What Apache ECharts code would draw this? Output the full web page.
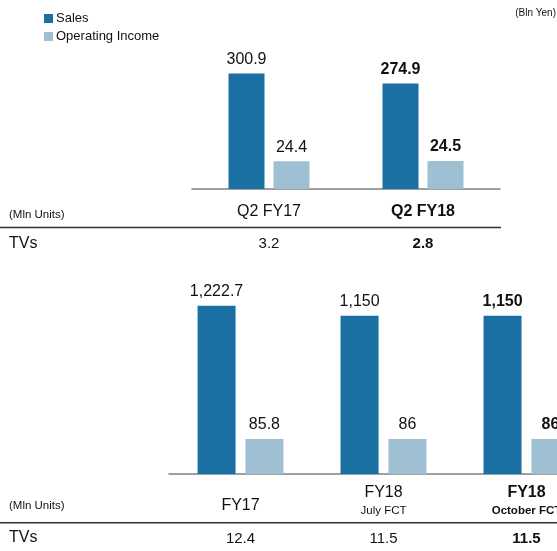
<!DOCTYPE html>
<html>
<head>
<meta charset="utf-8">
<script src="https://cdn.jsdelivr.net/npm/echarts@6/dist/echarts.min.js"></script>
<style>
html,body{margin:0;padding:0;background:#fff;}
#c{width:557px;height:551px;}
</style>
</head>
<body>
<div id="c"></div>
<script>
// ---- data ----
var quarterCats = ['Q2 FY17', 'Q2 FY18'];
var quarterSales = [300.9, 274.9];
var quarterOpIncome = [24.4, 24.5];
var quarterTVs = ['3.2', '2.8'];

var yearCats = ['FY17', 'FY18', 'FY18'];
var yearSubs = ['', 'July FCT', 'October FCT'];
var yearSales = [1222.7, 1150, 1150];
var yearOpIncome = [85.8, 86, 86];
var yearTVs = ['12.4', '11.5', '11.5'];

var quarterBold = 1; // highlighted column
var yearBold = 2;

// ---- style ----
var FONT = 'Liberation Sans, Arial, sans-serif';
var C_SALES = '#1a6fa3';
var C_OP = '#9fbfd2';

function fmt(v) {
  var p = String(v).split('.');
  p[0] = p[0].replace(/\B(?=(\d{3})+(?!\d))/g, ',');
  return p.join('.');
}
function items(arr, boldIdx) {
  return arr.map(function (v, i) {
    return i === boldIdx ? { value: v, label: { fontWeight: 'bold' } } : v;
  });
}
var barLabel = { show: true, position: 'top', distance: 6, fontSize: 16, fontFamily: FONT, color: '#111', formatter: function (p) { return fmt(p.value); } };

var chart = echarts.init(document.getElementById('c'), null, { renderer: 'canvas' });
var option = {
  animation: false,
  backgroundColor: '#fff',
  textStyle: { fontFamily: FONT },
  legend: {
    orient: 'vertical', left: 44, top: 12, padding: 0,
    icon: 'rect', itemWidth: 9, itemHeight: 9, itemGap: 5,
    textStyle: { fontSize: 13, fontFamily: FONT, color: '#111', padding: [0, 0, 0, -2] },
    data: ['Sales', 'Operating Income']
  },
  grid: [
    { left: 192, right: 57, top: 49, height: 140, outerBoundsMode: 'none' },
    { left: 169, width: 429, top: 294, height: 180, outerBoundsMode: 'none' }
  ],
  xAxis: [
    { gridIndex: 0, type: 'category', data: quarterCats,
      axisLine: { lineStyle: { color: '#808080', width: 1.5 } }, axisTick: { show: false },
      axisLabel: { margin: 15, fontSize: 16, color: '#111', fontFamily: FONT,
        formatter: function (v, i) { return i === quarterBold ? '{b|' + v + '}' : '{n|' + v + '}'; },
        rich: { n: { fontSize: 16, fontFamily: FONT, color: '#111' }, b: { fontSize: 16, fontWeight: 'bold', fontFamily: FONT, color: '#111' } } } },
    { gridIndex: 0, type: 'category', data: quarterTVs, position: 'bottom',
      axisLine: { show: false }, axisTick: { show: false },
      axisLabel: { margin: 47, fontSize: 15, color: '#111', fontFamily: FONT,
        formatter: function (v, i) { return i === quarterBold ? '{b|' + v + '}' : '{n|' + v + '}'; },
        rich: { n: { fontSize: 15, fontFamily: FONT, color: '#111' }, b: { fontSize: 15, fontWeight: 'bold', fontFamily: FONT, color: '#111' } } } },
    { gridIndex: 1, type: 'category', data: yearCats,
      axisLine: { lineStyle: { color: '#808080', width: 1.5 } }, axisTick: { show: false },
      axisLabel: { margin: 10, color: '#111', fontFamily: FONT, interval: 0,
        formatter: function (v, i) {
          var s = yearSubs[i];
          if (!s) return '{n|' + v + '}';
          return i === yearBold ? '{bb|' + v + '}\n{bs|' + s + '}' : '{b|' + v + '}\n{s|' + s + '}';
        },
        rich: {
          n: { fontSize: 16, lineHeight: 43, fontFamily: FONT, color: '#111' },
          b: { fontSize: 16, lineHeight: 18, fontFamily: FONT, color: '#111' },
          s: { fontSize: 11.5, lineHeight: 17, fontFamily: FONT, color: '#111' },
          bb: { fontSize: 16, lineHeight: 18, fontWeight: 'bold', fontFamily: FONT, color: '#111' },
          bs: { fontSize: 11.5, lineHeight: 17, fontWeight: 'bold', fontFamily: FONT, color: '#111' }
        } } },
    { gridIndex: 1, type: 'category', data: yearTVs, position: 'bottom',
      axisLine: { show: false }, axisTick: { show: false },
      axisLabel: { margin: 57, fontSize: 15, color: '#111', fontFamily: FONT, interval: 0,
        formatter: function (v, i) { return i === yearBold ? '{b|' + v + '}' : '{n|' + v + '}'; },
        rich: { n: { fontSize: 15, fontFamily: FONT, color: '#111' }, b: { fontSize: 15, fontWeight: 'bold', fontFamily: FONT, color: '#111' } } } }
  ],
  yAxis: [
    { gridIndex: 0, type: 'value', min: 0, max: 364.7, show: false },
    { gridIndex: 0, type: 'value', min: 0, max: 122.9, show: false },
    { gridIndex: 1, type: 'value', min: 0, max: 1307.7, show: false },
    { gridIndex: 1, type: 'value', min: 0, max: 441, show: false }
  ],
  series: [
    { name: 'Sales', type: 'bar', xAxisIndex: 0, yAxisIndex: 0, barWidth: 36, barGap: '25%',
      itemStyle: { color: C_SALES }, label: barLabel, data: items(quarterSales, quarterBold) },
    { name: 'Operating Income', type: 'bar', xAxisIndex: 0, yAxisIndex: 1, barWidth: 36, barGap: '25%',
      itemStyle: { color: C_OP }, label: barLabel, data: items(quarterOpIncome, quarterBold) },
    { name: 'Sales', type: 'bar', xAxisIndex: 2, yAxisIndex: 2, barWidth: 38, barGap: '26%',
      itemStyle: { color: C_SALES }, label: barLabel, data: items(yearSales, yearBold) },
    { name: 'Operating Income', type: 'bar', xAxisIndex: 2, yAxisIndex: 3, barWidth: 38, barGap: '26%',
      itemStyle: { color: C_OP }, label: barLabel, data: items(yearOpIncome, yearBold) }
  ],
  graphic: [
    { type: 'text', right: 1, top: 8, style: { text: '(Bln Yen)', fontSize: 10, fontFamily: FONT, fill: '#111' } },
    { type: 'text', left: 9, top: 209, style: { text: '(Mln Units)', fontSize: 11.5, fontFamily: FONT, fill: '#111' } },
    { type: 'line', shape: { x1: 0, y1: 227.5, x2: 501, y2: 227.5 }, style: { stroke: '#333', lineWidth: 1.5 } },
    { type: 'text', left: 9, top: 236, style: { text: 'TVs', fontSize: 16, fontFamily: FONT, fill: '#111' } },
    { type: 'text', left: 9, top: 500, style: { text: '(Mln Units)', fontSize: 11.5, fontFamily: FONT, fill: '#111' } },
    { type: 'line', shape: { x1: 0, y1: 522.7, x2: 557, y2: 522.7 }, style: { stroke: '#333', lineWidth: 1.5 } },
    { type: 'text', left: 9, top: 530, style: { text: 'TVs', fontSize: 16, fontFamily: FONT, fill: '#111' } }
  ]
};
chart.setOption(option);
</script>
</body>
</html>
